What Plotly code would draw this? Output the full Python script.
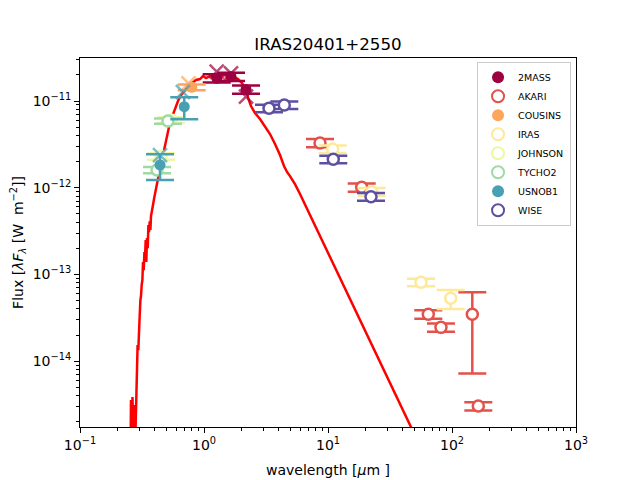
import plotly.graph_objects as go

# model spectrum (wavelength in micron, lambda*F_lambda in W m^-2)
model_wl = [0.2554, 0.2578, 0.2617, 0.2651, 0.2690, 0.2726, 0.2766, 0.2803, 0.2844, 0.2882,
            0.2914, 0.2953, 0.2991, 0.3031, 0.3070, 0.3104, 0.3145, 0.3186, 0.3222, 0.3264,
            0.3307, 0.3344, 0.3387, 0.3425, 0.3470, 0.3516, 0.3562, 0.3602, 0.3649, 0.3696,
            0.3738, 0.3807, 0.3879, 0.3952, 0.4025, 0.4154, 0.4296, 0.4417, 0.4584, 0.4757,
            0.4984, 0.5220, 0.5519, 0.5836, 0.6171, 0.6524, 0.6897, 0.7430, 0.8000, 0.8620,
            0.9284, 0.9815, 1.038, 1.118, 1.227, 1.346, 1.504, 1.682, 1.880, 2.025,
            2.141, 2.222, 2.285, 2.393, 2.578, 2.829, 3.104, 3.406, 3.738, 4.102,
            4.417, 4.670, 4.937, 5.418, 5.946, 8.620, 12.50, 18.12, 26.27, 38.08,
            46.70, 55.21]
model_flux = [7.2e-16, 3.56e-15, 1.60e-15, 3.85e-15, 1.23e-15, 3.12e-15, 7.2e-16, 2.09e-15, 4.06e-15, 7.88e-15,
              1.53e-14, 1.34e-14, 2.82e-14, 3.40e-14, 5.07e-14, 5.64e-14, 7.55e-14, 8.62e-14, 1.39e-13, 1.12e-13,
              1.81e-13, 1.55e-13, 2.49e-13, 1.39e-13, 2.63e-13, 2.01e-13, 3.72e-13, 3.08e-13, 4.10e-13, 3.25e-13,
              4.72e-13, 5.25e-13, 6.31e-13, 7.41e-13, 8.69e-13, 1.07e-12, 1.36e-12, 1.64e-12, 2.14e-12, 2.79e-12,
              3.85e-12, 5.01e-12, 6.53e-12, 8.30e-12, 1.00e-11, 1.17e-11, 1.30e-11, 1.45e-11, 1.61e-11, 1.75e-11,
              1.79e-11, 1.94e-11, 1.84e-11, 1.94e-11, 1.89e-11, 1.94e-11, 2.00e-11, 1.94e-11, 1.79e-11, 1.61e-11,
              1.41e-11, 1.24e-11, 1.05e-11, 8.75e-12, 7.27e-12, 6.20e-12, 5.15e-12, 4.16e-12, 3.19e-12, 2.38e-12,
              1.78e-12, 1.52e-12, 1.36e-12, 1.10e-12, 8.46e-13, 2.77e-13, 9.08e-14, 2.98e-14, 9.77e-15, 3.20e-15,
              1.74e-15, 1.05e-15]

# photometry per survey
surveys = ["2MASS", "AKARI", "COUSINS", "IRAS", "JOHNSON", "TYCHO2", "USNOB1", "WISE"]
colors = ["#9e0142", "#e2524a", "#fca55d", "#fee99a", "#edf8a3", "#a1d9a4", "#48a1b3", "#5e4fa2"]
filled = [True, False, True, False, False, False, True, False]

twomass_wl = [1.266, 1.651, 2.182]
twomass_flux = [1.83e-11, 1.91e-11, 1.36e-11]
twomass_err = [2.0e-12, 2.1e-12, 1.5e-12]

akari_wl = [8.62, 18.70, 64.4, 81.5, 145.8, 163.0]
akari_flux = [3.28e-12, 1.01e-12, 3.47e-14, 2.45e-14, 3.47e-14, 3.03e-15]
akari_err = [3.6e-13, 1.1e-13, 4.0e-15, 2.7e-15, 2.75e-14, 3.3e-16]

cousins_wl = [0.796]
cousins_flux = [1.44e-11]
cousins_err = [1.1e-12]

iras_wl = [10.91, 22.51, 56.23, 97.6]
iras_flux = [2.79e-12, 9.0e-13, 8.1e-14, 5.3e-14]
iras_err = [2.8e-13, 9.0e-14, 8.0e-15, 1.3e-14]

johnson_wl = [0.45, 0.542]
johnson_flux = [2.3e-12, 6.04e-12]
johnson_err = [2.0e-13, 4.5e-13]

tycho_wl = [0.418, 0.512]
tycho_flux = [1.6e-12, 5.87e-12]
tycho_err = [1.3e-13, 4.0e-13]

usno_wl = [0.4417, 0.693]
usno_flux = [1.83e-12, 8.6e-12]
usno_err = [6.0e-13, 2.45e-12]

wise_wl = [3.344, 4.442, 11.03, 22.22]
wise_flux = [8.24e-12, 8.99e-12, 2.13e-12, 7.87e-13]
wise_err = [8.0e-13, 9.0e-13, 2.1e-13, 8.0e-14]

# cross markers (model photometry)
cross_survey = ["2MASS", "2MASS", "2MASS", "COUSINS", "USNOB1", "USNOB1"]
cross_wl = [1.266, 1.651, 2.182, 0.75, 0.4417, 0.676]
cross_flux = [2.18e-11, 2.08e-11, 1.12e-11, 1.6e-11, 2.38e-12, 1.27e-11]

phot = {
    "2MASS": (twomass_wl, twomass_flux, twomass_err),
    "AKARI": (akari_wl, akari_flux, akari_err),
    "COUSINS": (cousins_wl, cousins_flux, cousins_err),
    "IRAS": (iras_wl, iras_flux, iras_err),
    "JOHNSON": (johnson_wl, johnson_flux, johnson_err),
    "TYCHO2": (tycho_wl, tycho_flux, tycho_err),
    "USNOB1": (usno_wl, usno_flux, usno_err),
    "WISE": (wise_wl, wise_flux, wise_err),
}

fig = go.Figure()

fig.add_trace(go.Scatter(
    x=model_wl, y=model_flux, mode="lines",
    line=dict(color="#ff0000", width=2.5), showlegend=False, hoverinfo="skip"
))

for name, c, fill in zip(surveys, colors, filled):
    wl, fl, er = phot[name]
    fig.add_trace(go.Scatter(
        x=wl, y=fl, mode="markers", name=name,
        marker=dict(size=11, color=c if fill else "white",
                    line=dict(color=c, width=0 if fill else 2.5)),
        error_y=dict(type="data", array=er, color=c, thickness=2.5, width=14),
    ))
    xs = [w for s, w in zip(cross_survey, cross_wl) if s == name]
    ys = [f for s, f in zip(cross_survey, cross_flux) if s == name]
    if xs:
        fig.add_trace(go.Scatter(
            x=xs, y=ys, mode="markers", showlegend=False, opacity=0.7,
            marker=dict(symbol="x-thin", size=14, line=dict(color=c, width=2.5)),
        ))

minor_x = [m * 10.0 ** e for e in range(-1, 3) for m in range(2, 10)]
minor_y = [m * 10.0 ** e for e in range(-16, -10) for m in range(2, 10)]

# the page body adds an 8 px offset, so margins are shifted to compensate
fig.update_layout(
    width=640, height=480,
    margin=dict(l=72, r=72, t=50, b=61),
    paper_bgcolor="white", plot_bgcolor="white",
    font=dict(family="DejaVu Sans", size=14, color="black"),
    title=dict(text="IRAS20401+2550", x=0.5, xanchor="center", xref="paper",
               yref="container", y=1 - 36 / 480, yanchor="middle", font=dict(size=16.7)),
    legend=dict(x=0.99, y=0.99, xanchor="right", yanchor="top",
                bgcolor="rgba(255,255,255,0.8)", bordercolor="#cccccc", borderwidth=1,
                font=dict(size=9.5), tracegroupgap=0, itemwidth=30, itemsizing="constant"),
    xaxis=dict(
        type="log", range=[-1, 3], automargin=False,
        tickvals=[0.1, 1, 10, 100, 1000],
        ticktext=["10<sup>−1</sup>", "10<sup>0</sup>", "10<sup>1</sup>", "10<sup>2</sup>", "10<sup>3</sup>"],
        ticks="outside", ticklen=5, tickcolor="black", tickfont=dict(size=14),
        minor=dict(tickvals=minor_x, ticks="outside", ticklen=3, tickcolor="black"),
        showline=True, linecolor="black", linewidth=1, mirror=True,
        showgrid=False, zeroline=False,
        title=dict(text="wavelength [<i>μ</i>m ]", standoff=13, font=dict(size=14)),
    ),
    yaxis=dict(
        type="log", range=[-14.76, -10.504], automargin=False,
        tickvals=[1e-14, 1e-13, 1e-12, 1e-11],
        ticktext=["10<sup>−14</sup>", "10<sup>−13</sup>", "10<sup>−12</sup>", "10<sup>−11</sup>"],
        ticks="outside", ticklen=5, tickcolor="black", tickfont=dict(size=14),
        minor=dict(tickvals=minor_y, ticks="outside", ticklen=3, tickcolor="black"),
        showline=True, linecolor="black", linewidth=1, mirror=True,
        showgrid=False, zeroline=False,
        title=dict(text="Flux [<i>λF<sub>λ</sub></i> [W  m<sup>−2</sup>]]", standoff=17, font=dict(size=14)),
    ),
)

fig.write_html("out.html")
